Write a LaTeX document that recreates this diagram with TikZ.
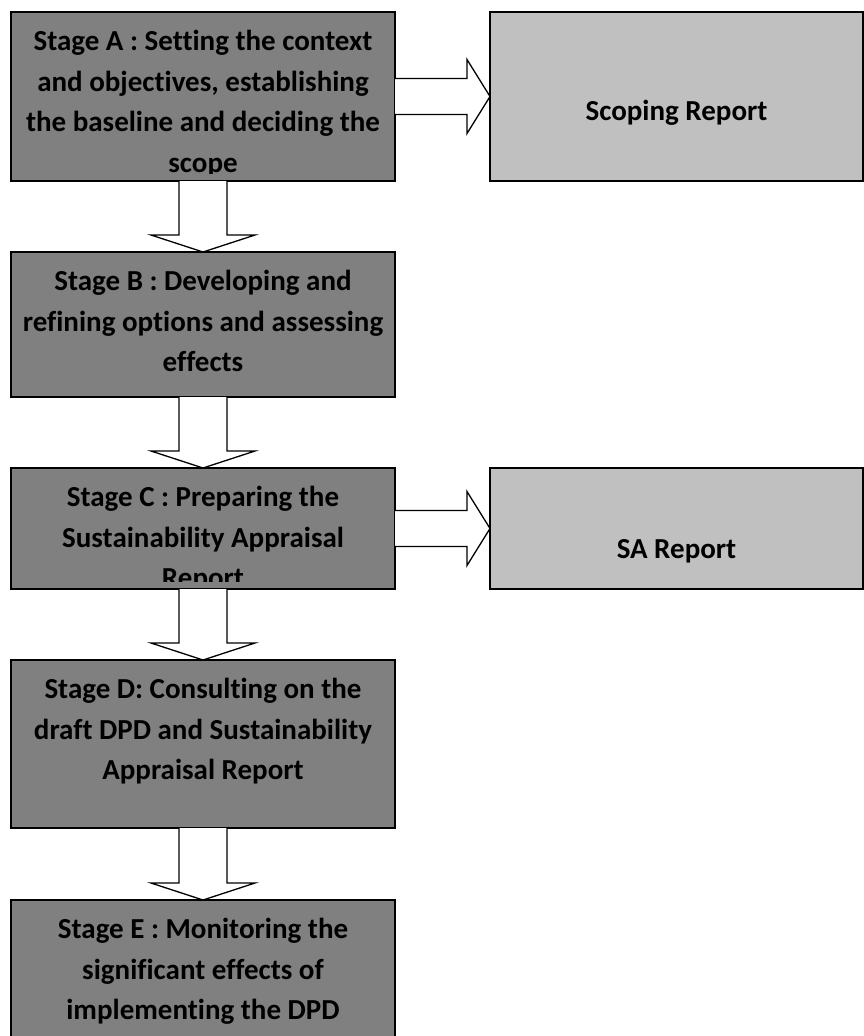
\documentclass[tikz,border=0pt]{standalone}
\usepackage{fontspec}
\setmainfont{Carlito}[Ligatures=CommonOff]
\usetikzlibrary{calc}
\definecolor{stagegray}{HTML}{808080}
\definecolor{reportgray}{HTML}{C0C0C0}
\newcommand\stagefont{\fontsize{29}{40.5}\selectfont\bfseries}
\tikzset{
    stagebox/.style={draw,line width=1.6pt,fill=stagegray,outer sep=0pt,minimum width=384pt},
    reportbox/.style={draw,line width=1.6pt,fill=reportgray,outer sep=0pt,minimum width=373pt},
    stagetext/.style={anchor=north,inner sep=0pt,align=center,font=\stagefont,execute at begin node=\strut},
    reporttext/.style={anchor=base,inner sep=0pt,font=\stagefont},
    blockarrow/.style={draw,line width=1.3pt,fill=white,line join=miter},
}
% hollow arrows between boxes
\newcommand\downblock[2]{
\draw[blockarrow] ($(#1.south)+(-24,0)$) -- ($(#2.north)+(-24,-17)$) -- ($(#2.north)+(-52,-17)$) -- (#2.north)
    -- ($(#2.north)+(52,-17)$) -- ($(#2.north)+(24,-17)$) -- ($(#1.south)+(24,0)$);
}
\newcommand\rightblock[2]{
\draw[blockarrow] ($(#1.east)+(0,-18)$) -- ($(#2.west)+(-23,-18)$) -- ($(#2.west)+(-23,-37)$) -- (#2.west)
    -- ($(#2.west)+(-23,37)$) -- ($(#2.west)+(-23,18)$) -- ($(#1.east)+(0,18)$);
}
\newcommand\stagelabel[2]{
\begin{scope}
\clip (#1.north west) rectangle ($(#1.south east)+(0,-8)$);
\node[stagetext] (#1txt) at ($(#1.north)+(0,18)$) {#2};
\end{scope}
}
\begin{document}
\begin{tikzpicture}[x=1pt,y=-1pt]
\useasboundingbox (0,0) rectangle (864,1036);
\node[stagebox,minimum height=169pt] (stageA) at (203,96.5) {};
\node[reportbox,minimum height=169pt] (scoping) at (676.5,96.5) {};
\node[stagebox,minimum height=145pt] (stageB) at (203,324.5) {};
\node[stagebox,minimum height=121pt] (stageC) at (203,528.5) {};
\node[reportbox,minimum height=121pt] (sareport) at (676.5,528.5) {};
\node[stagebox,minimum height=168pt] (stageD) at (203,744) {};
\node[stagebox,minimum height=170pt] (stageE) at (203,985) {};

\stagelabel{stageA}{Stage A : Setting the context\\and objectives, establishing\\the baseline and deciding the\\scope}
\stagelabel{stageB}{Stage B : Developing and\\refining options and assessing\\effects}
\stagelabel{stageC}{Stage C : Preparing the\\Sustainability Appraisal\\Report}
\stagelabel{stageD}{Stage D: Consulting on the\\draft DPD and Sustainability\\Appraisal Report}
\stagelabel{stageE}{Stage E : Monitoring the\\significant effects of\\implementing the DPD}
\node[reporttext] (scopingtxt) at ($(scoping.north)+(0,108)$) {Scoping Report};
\node[reporttext] (satxt) at ($(sareport.north)+(0,90)$) {SA Report};

\rightblock{stageA}{scoping}
\rightblock{stageC}{sareport}
\downblock{stageA}{stageB}
\downblock{stageB}{stageC}
\downblock{stageC}{stageD}
\downblock{stageD}{stageE}
\end{tikzpicture}
\end{document}
